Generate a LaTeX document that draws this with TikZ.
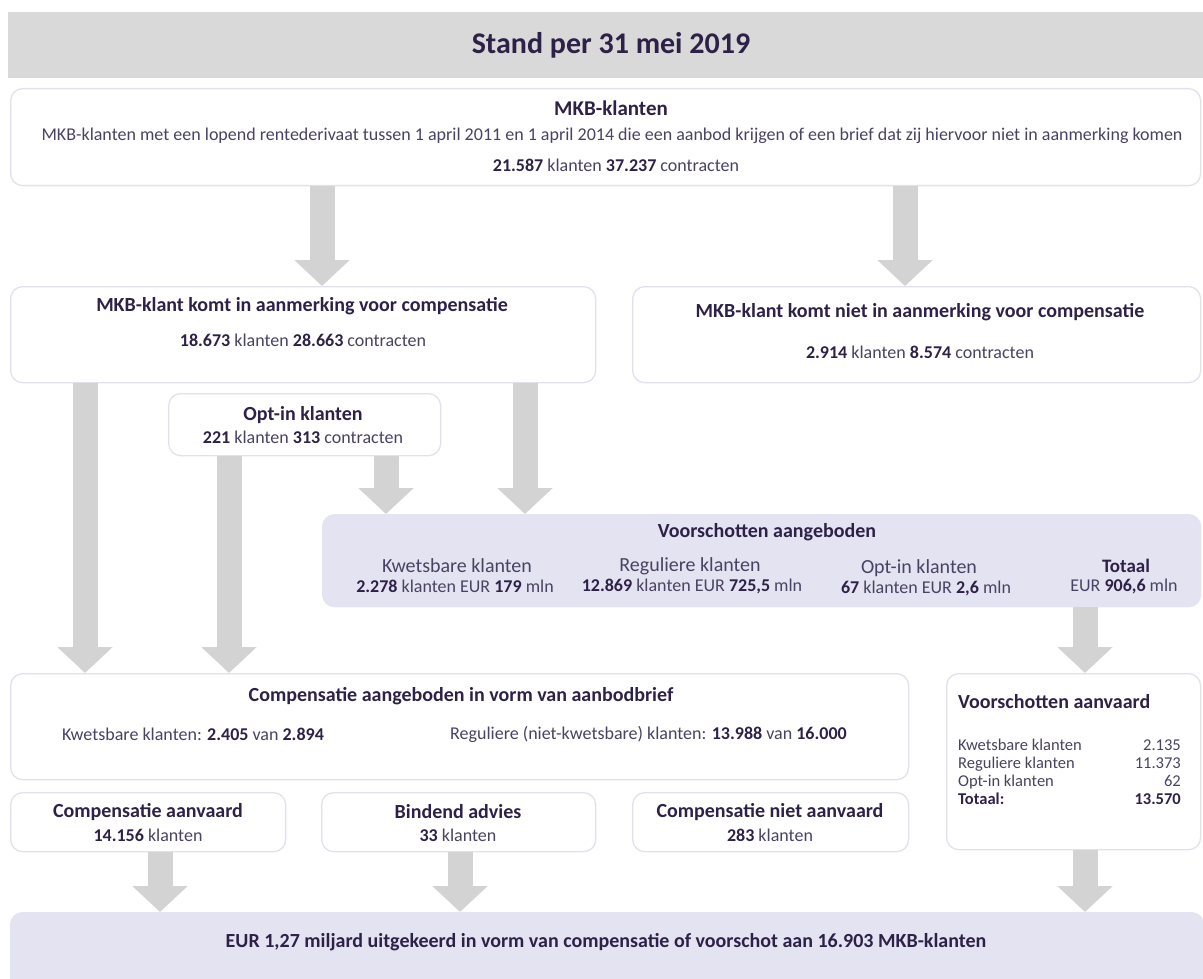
\documentclass[tikz,border=0pt]{standalone}
\usepackage{fontspec}
\setmainfont{Carlito}
\usetikzlibrary{arrows.meta}

\definecolor{ink}{HTML}{2E2147}
\definecolor{inksoft}{HTML}{4A4262}
\definecolor{edgeline}{HTML}{E2E0EC}
\definecolor{lavender}{HTML}{E4E3F1}
\definecolor{titlebar}{HTML}{D9D9D9}
\definecolor{flowgray}{HTML}{D3D3D3}

\newcommand{\fig}[1]{{\bfseries\color{ink}#1}}

\tikzset{
  panel/.style={draw=edgeline, line width=1.3pt, rounded corners=12pt, fill=white,
    inner sep=0pt, anchor=north west},
  lavpanel/.style={panel, draw=lavender, fill=lavender},
  headtext/.style={font=\fontsize{20}{24}\selectfont\bfseries, text=ink, inner sep=0pt},
  bodytext/.style={font=\fontsize{18}{21}\selectfont, text=inksoft, inner sep=0pt},
  colhead/.style={font=\fontsize{20}{24}\selectfont, text=inksoft, inner sep=0pt},
  rowtext/.style={font=\fontsize{16.5}{18}\selectfont, text=inksoft, inner sep=0pt},
  fatarrow/.style={draw=flowgray, line width=25pt, -{Triangle[width=54pt,length=26pt]}}
}

\begin{document}
\begin{tikzpicture}[x=1pt,y=-1pt]

    \useasboundingbox (0,0) rectangle (1203,979); % Page size

    % Title bar
    \fill[titlebar] (8,12) rectangle (1203,78);
    \node[font=\fontsize{30}{36}\selectfont\bfseries, text=ink] (title) at (611,45) {Stand per 31 mei 2019};

    % Boxes
    \node[panel, minimum width=1190pt, minimum height=97pt] (mkb) at (10,88) {};
    \node[panel, minimum width=585pt, minimum height=96pt] (eligible) at (10,286) {};
    \node[panel, minimum width=568pt, minimum height=96pt] (noteligible) at (632,286) {};
    \node[panel, minimum width=272pt, minimum height=62pt] (optin) at (168,393) {};
    \node[lavpanel, minimum width=878pt, minimum height=92pt] (advances) at (322,514) {};
    \node[panel, minimum width=898pt, minimum height=106pt] (offered) at (10,673) {};
    \node[panel, minimum width=254pt, minimum height=176pt] (advaccepted) at (946,673) {};
    \node[panel, minimum width=275pt, minimum height=59pt] (accepted) at (10,792) {};
    \node[panel, minimum width=274pt, minimum height=59pt] (binding) at (321,792) {};
    \node[panel, minimum width=276pt, minimum height=59pt] (declined) at (632,792) {};
    \node[lavpanel, minimum width=1193pt, minimum height=100pt] (paid) at (10,912) {};

    % Arrows
    \draw[fatarrow] (mkb.south -| 322,0) -- (eligible.north -| 322,0);
    \draw[fatarrow] (mkb.south -| 905,0) -- (noteligible.north -| 905,0);
    \draw[fatarrow] (eligible.south -| 85,0) -- (offered.north -| 85,0);
    \draw[fatarrow] (eligible.south -| 525,0) -- (advances.north -| 525,0);
    \draw[fatarrow] (optin.south -| 229,0) -- (offered.north -| 229,0);
    \draw[fatarrow] (optin.south -| 386,0) -- (advances.north -| 386,0);
    \draw[fatarrow] (advances.south -| 1085,0) -- (advaccepted.north -| 1085,0);
    \draw[fatarrow] (accepted.south -| 160,0) -- (paid.north -| 160,0);
    \draw[fatarrow] (binding.south -| 460,0) -- (paid.north -| 460,0);
    \draw[fatarrow] (advaccepted.south -| 1085,0) -- (paid.north -| 1085,0);

    % MKB-klanten
    \node[headtext, font=\fontsize{21}{25}\selectfont\bfseries] (mkbtitle) at (611,108) {MKB-klanten};
    \node[bodytext] (mkbtext) at (612,136) {MKB-klanten met een lopend rentederivaat tussen 1 april 2011 en 1 april 2014 die een aanbod krijgen of een brief dat zij hiervoor niet in aanmerking komen};
    \node[bodytext] (mkbfig) at (616,165) {\fig{21.587} klanten \fig{37.237} contracten};

    % Eligible / not eligible
    \node[headtext] (eligtitle) at (302,306) {MKB-klant komt in aanmerking voor compensatie};
    \node[bodytext] (eligfig) at (303,340) {\fig{18.673} klanten \fig{28.663} contracten};
    \node[headtext] (noteligtitle) at (920,312) {MKB-klant komt niet in aanmerking voor compensatie};
    \node[bodytext] (noteligfig) at (920,352) {\fig{2.914} klanten \fig{8.574} contracten};

    % Opt-in
    \node[headtext] (optintitle) at (303,415) {Opt-in klanten};
    \node[bodytext] (optinfig) at (303,437) {\fig{221} klanten \fig{313} contracten};

    % Voorschotten aangeboden
    \node[headtext] (advtitle) at (767,532) {Voorschotten aangeboden};
    \node[colhead] (advvuln) at (457,566) {Kwetsbare klanten};
    \node[colhead] (advreg) at (690,566) {Reguliere klanten};
    \node[colhead] (advopt) at (919,568) {Opt-in klanten};
    \node[headtext, font=\fontsize{19}{23}\selectfont\bfseries] (advtotal) at (1126,566) {Totaal};
    \node[bodytext] (advvulnfig) at (455,586) {\fig{2.278} klanten EUR \fig{179} mln};
    \node[bodytext] (advregfig) at (692,586) {\fig{12.869} klanten EUR \fig{725,5} mln};
    \node[bodytext] (advoptfig) at (926,588) {\fig{67} klanten EUR \fig{2,6} mln};
    \node[bodytext] (advtotalfig) at (1124,586) {EUR \fig{906,6} mln};

    % Compensatie aangeboden
    \node[headtext] (offtitle) at (461,696) {Compensatie aangeboden in vorm van aanbodbrief};
    \node[bodytext, anchor=west] (offvuln) at (62,734) {Kwetsbare klanten: \fig{2.405} van \fig{2.894}};
    \node[bodytext, anchor=west] (offreg) at (450,734) {Reguliere (niet-kwetsbare) klanten: \fig{13.988} van \fig{16.000}};

    % Voorschotten aanvaard
    \node[headtext, anchor=west] (acctitle) at (958,702) {Voorschotten aanvaard};
    \node[rowtext, anchor=base west] (accvuln) at (958,750) {Kwetsbare klanten};
    \node[rowtext, anchor=base west] (accreg) at (958,768) {Reguliere klanten};
    \node[rowtext, anchor=base west] (accopt) at (958,786) {Opt-in klanten};
    \node[rowtext, font=\fontsize{16.5}{18}\selectfont\bfseries, text=ink, anchor=base west] (acctotal) at (958,804) {Totaal:};
    \node[rowtext, anchor=base east] (accvulnfig) at (1181,750) {2.135};
    \node[rowtext, anchor=base east] (accregfig) at (1181,768) {11.373};
    \node[rowtext, anchor=base east] (accoptfig) at (1181,786) {62};
    \node[rowtext, font=\fontsize{16.5}{18}\selectfont\bfseries, text=ink, anchor=base east] (acctotalfig) at (1181,804) {13.570};

    % Outcomes
    \node[headtext] (accttl) at (148,812) {Compensatie aanvaard};
    \node[bodytext] (accfig) at (148,835) {\fig{14.156} klanten};
    \node[headtext] (bindttl) at (458,812) {Bindend advies};
    \node[bodytext] (bindfig) at (458,835) {\fig{33} klanten};
    \node[headtext] (declttl) at (770,812) {Compensatie niet aanvaard};
    \node[bodytext] (declfig) at (770,835) {\fig{283} klanten};

    % Paid out
    \node[headtext] (paidtext) at (606,942) {EUR 1,27 miljard uitgekeerd in vorm van compensatie of voorschot aan 16.903 MKB-klanten};

\end{tikzpicture}
\end{document}
